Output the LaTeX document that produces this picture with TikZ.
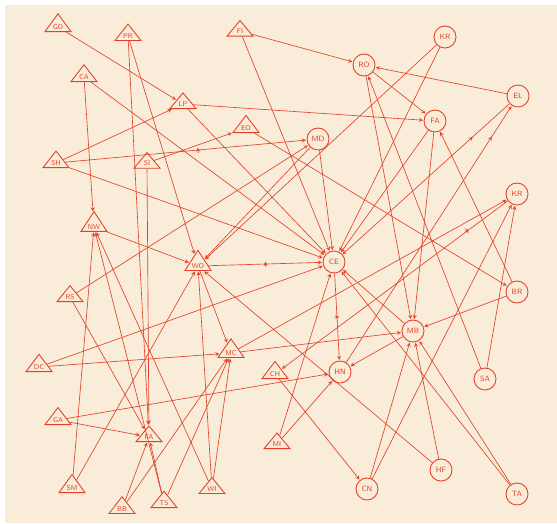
\documentclass[tikz,border=0pt]{standalone}
\usetikzlibrary{shapes.geometric,arrows,decorations.markings}

\definecolor{paper}{RGB}{249,236,217}
\definecolor{ink}{RGB}{228,64,40}

\begin{document}
\begin{tikzpicture}[x=0.03cm,y=-0.03cm,
  circ/.style={circle,draw=ink,line width=0.75pt,minimum size=0.66cm,inner sep=0pt,font=\fontsize{6.5}{7}\selectfont\sffamily,text=ink},
  tri/.style={isosceles triangle,isosceles triangle stretches,shape border rotate=90,draw=ink,line width=0.75pt,minimum width=0.78cm,minimum height=0.47cm,inner sep=0pt,font=\fontsize{6}{6}\selectfont\sffamily,text=ink},
  arr/.style={->,>=stealth,ink,line width=0.55pt,shorten >=0.5pt},
  crossmark/.style={postaction={decorate},decoration={markings,mark=at position #1 with {\draw[ink,line width=0.55pt] (0pt,-2.5pt) -- (0pt,2.5pt);}}},
  midarr/.style={postaction={decorate},decoration={markings,mark=at position #1 with {\arrow[ink]{stealth}}}},
]

% Paper
\fill[white] (0,0) rectangle (557,523);
\fill[paper] (5,5) rectangle (557,523);
\useasboundingbox (0,0) rectangle (557,523);

% Triangle nodes
\node[tri] (go) at (58,27) {GO};
\node[tri] (pr) at (128,36) {PR};
\node[tri] (fi) at (240,31) {FI};
\node[tri] (ca) at (84,77) {CA};
\node[tri] (lp) at (183,104) {LP};
\node[tri] (eo) at (246,128) {EO};
\node[tri] (sh) at (56,163) {SH};
\node[tri] (si) at (147,163) {SI};
\node[tri] (nw) at (94,227) {NW};
\node[tri] (wo) at (198,266) {WO};
\node[tri] (rs) at (70,297) {RS};
\node[tri] (mc) at (231,353) {MC};
\node[tri] (dc) at (39,367) {DC};
\node[tri] (ch) at (275,374) {CH};
\node[tri] (ga) at (58,420) {GA};
\node[tri] (faT) at (149,437) {FA};
\node[tri] (mi) at (277,444) {MI};
\node[tri] (sm) at (72,488) {SM};
\node[tri] (wi) at (212,489) {WI};
\node[tri] (bb) at (122,509) {BB};
\node[tri] (ts) at (164,503) {TS};

% Circle nodes
\node[circ] (krT) at (445,37) {KR};
\node[circ] (ro) at (364,65) {RO};
\node[circ] (el) at (518,96) {EL};
\node[circ] (faC) at (435,121) {FA};
\node[circ] (md) at (318,139) {MD};
\node[circ] (krR) at (517,194) {KR};
\node[circ] (ce) at (334,262) {CE};
\node[circ] (br) at (517,292) {BR};
\node[circ] (mb) at (413,331) {MB};
\node[circ] (hn) at (340,372) {HN};
\node[circ] (sa) at (485,379) {SA};
\node[circ] (hf) at (441,470) {HF};
\node[circ] (cn) at (367,489) {CN};
\node[circ] (ta) at (517,494) {TA};

% Connectors, top left
\draw[arr] (go) -- (lp);
\draw[arr] (pr) -- (faT); \draw[arr] (pr) -- (wo);
\draw[arr] (fi) -- (ro); \draw[arr] (fi) -- (ce);
\draw[arr] (ca) -- (nw); \draw[arr] (ca) -- (ce);
\draw[arr] (lp) -- (faC); \draw[arr] (lp) -- (ce);
\draw[arr] (sh) -- (lp); \draw[arr,crossmark=0.55] (sh) -- (md); \draw[arr] (sh) -- (ce);
\draw[arr] (si) -- (eo); \draw[arr] (si) -- (faT);
\draw[arr] (eo) -- (br);
\draw[arr] (rs) -- (md); \draw[arr] (rs) -- (faT);
\draw[arr] (nw) -- (wo);
\draw[arr,crossmark=0.5] (wo) -- (ce); \draw[arr] (wo) -- (mc);
\draw[arr] (md) -- (ce); \draw[arr] (md) -- (wo);

% Connectors, top right
\draw[arr] (krT) -- (wo); \draw[arr] (krT) -- (ce);
\draw[arr] (el) -- (ro); \draw[arr,<-,midarr=0.78] (ce) -- (el);
\draw[arr] (ro) -- (faC); \draw[arr] (ro) -- (mb);
\draw[arr] (faC) -- (ce); \draw[arr] (faC) -- (mb);
\draw[arr] (br) -- (faC); \draw[arr] (br) -- (mb);
\draw[arr] (sa) -- (ro); \draw[arr] (sa) -- (krR);

% Connectors, middle and bottom
\draw[arr,crossmark=0.5] (ce) -- (hn);
\draw[arr,midarr=0.88] (hn) -- (el);
\draw[arr] (dc) -- (ce); \draw[arr] (dc) -- (mc);
\draw[arr] (mc) -- (mb); \draw[arr] (mc) -- (krR);
\draw[arr,crossmark=0.18] (krR) -- (ch);
\draw[arr] (cn) -- (krR); \draw[arr] (cn) -- (mb);
\draw[arr] (hf) -- (mb); \draw[arr] (hf) -- (wo);
\draw[arr] (ta) -- (mb); \draw[arr] (ta) -- (ce);
\draw[arr] (mi) -- (ce); \draw[arr] (mi) -- (hn);
\draw[arr] (mb) -- (ce); \draw[arr] (mb) -- (hn);
\draw[arr] (ga) -- (hn); \draw[arr] (ga) -- (faT);
\draw[arr] (ch) -- (cn);
\draw[arr] (sm) -- (nw); \draw[arr] (sm) -- (wo);
\draw[arr] (ts) -- (nw); \draw[arr] (ts) -- (faT); \draw[arr] (ts) -- (mc);
\draw[arr] (wi) -- (nw); \draw[arr] (wi) -- (wo); \draw[arr] (wi) -- (mc);
\draw[arr] (bb) -- (faT); \draw[arr] (bb) -- (mc);

\end{tikzpicture}
\end{document}
